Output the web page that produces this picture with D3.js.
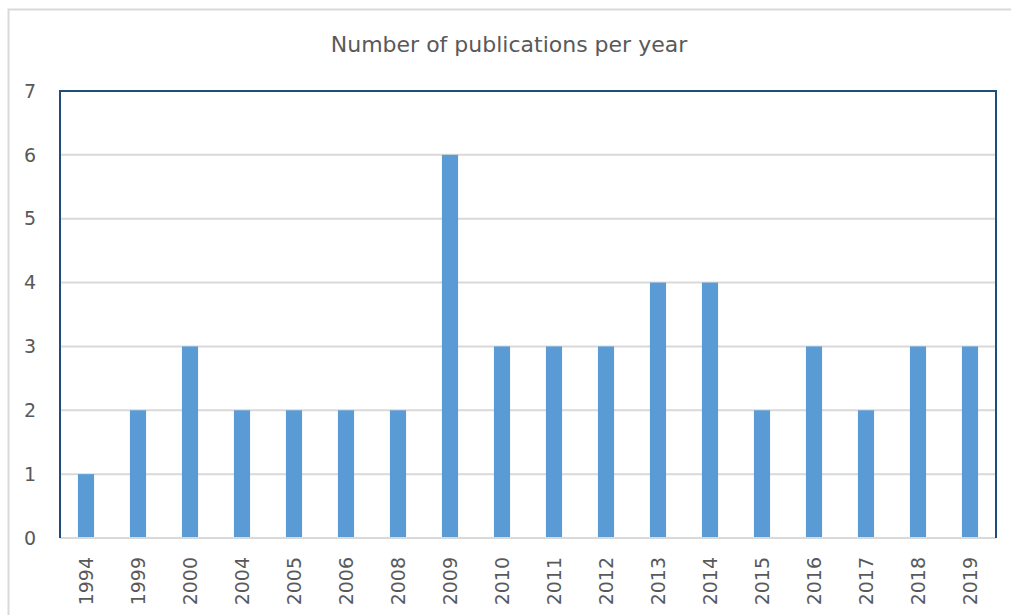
<!DOCTYPE html>
<html>
<head>
<meta charset="utf-8">
<script src="https://cdn.jsdelivr.net/npm/d3@7"></script>
<style>
    body { margin: 0; background: #fff; }
    text { font-family: "DejaVu Sans", Verdana, sans-serif; fill: #595959; }
</style>
</head>
<body>
<div id="chart"></div>
<script>
// data
const years = ['1994', '1999', '2000', '2004', '2005', '2006', '2008', '2009', '2010',
    '2011', '2012', '2013', '2014', '2015', '2016', '2017', '2018', '2019'];
const publications = [1, 2, 3, 2, 2, 2, 2, 6, 3, 3, 3, 4, 4, 2, 3, 2, 3, 3];
const yTicks = [0, 1, 2, 3, 4, 5, 6, 7];
const title = 'Number of publications per year';

const W = 1011, H = 615;
const margin = { top: 91, left: 60, right: 15, bottom: 77 };
const innerW = W - margin.left - margin.right;
const innerH = H - margin.top - margin.bottom;

const svg = d3.select('#chart')
    .append('svg')
    .attr('width', W)
    .attr('height', H);

// outer chart border (only top / left visible)
svg.append('path')
    .attr('d', `M8.5,${H} V9.5 H${W}`)
    .attr('fill', 'none')
    .attr('stroke', '#d9d9d9')
    .attr('stroke-width', 2);

svg.append('text')
    .attr('x', 509)
    .attr('y', 52)
    .attr('text-anchor', 'middle')
    .style('font-size', '22px')
    .text(title);

const g = svg.append('g')
    .attr('transform', `translate(${margin.left}, ${margin.top})`);

const x = d3.scaleBand().domain(years).range([0, innerW]).paddingInner(0.69).paddingOuter(0.345);
const y = d3.scaleLinear().domain([0, 7]).range([innerH, 0]);

/** gridlines */
g.selectAll('.grid')
    .data(yTicks.filter(d => d > 0 && d < 7))
    .enter()
    .append('line')
    .attr('x1', 0).attr('x2', innerW)
    .attr('y1', d => y(d)).attr('y2', d => y(d))
    .attr('stroke', '#d9d9d9')
    .attr('stroke-width', 2);

/** bars */
g.selectAll('.bar')
    .data(years)
    .enter()
    .append('rect')
    .attr('x', d => x(d))
    .attr('width', x.bandwidth())
    .attr('y', (d, i) => y(publications[i]))
    .attr('height', (d, i) => innerH - y(publications[i]))
    .attr('fill', '#5b9bd5');

// baseline axis
g.append('line')
    .attr('x1', 0).attr('x2', innerW)
    .attr('y1', innerH).attr('y2', innerH)
    .attr('stroke', '#d9d9d9')
    .attr('stroke-width', 2);

// dark frame: left, top, right
g.append('path')
    .attr('d', `M0,${innerH} V0 H${innerW} V${innerH}`)
    .attr('fill', 'none')
    .attr('stroke', '#1f4e79')
    .attr('stroke-width', 2);

/** y labels */
g.selectAll('.ylab')
    .data(yTicks)
    .enter()
    .append('text')
    .attr('x', -24)
    .attr('y', d => y(d))
    .attr('dy', '0.35em')
    .attr('text-anchor', 'end')
    .style('font-size', '19px')
    .text(d => d);

/** x labels, rotated */
g.selectAll('.xlab')
    .data(years)
    .enter()
    .append('text')
    .attr('transform', d => `translate(${x(d) + x.bandwidth() / 2}, ${innerH + 19}) rotate(-90)`)
    .attr('dy', '0.36em')
    .attr('text-anchor', 'end')
    .style('font-size', '19px')
    .text(d => d);
</script>
</body>
</html>
